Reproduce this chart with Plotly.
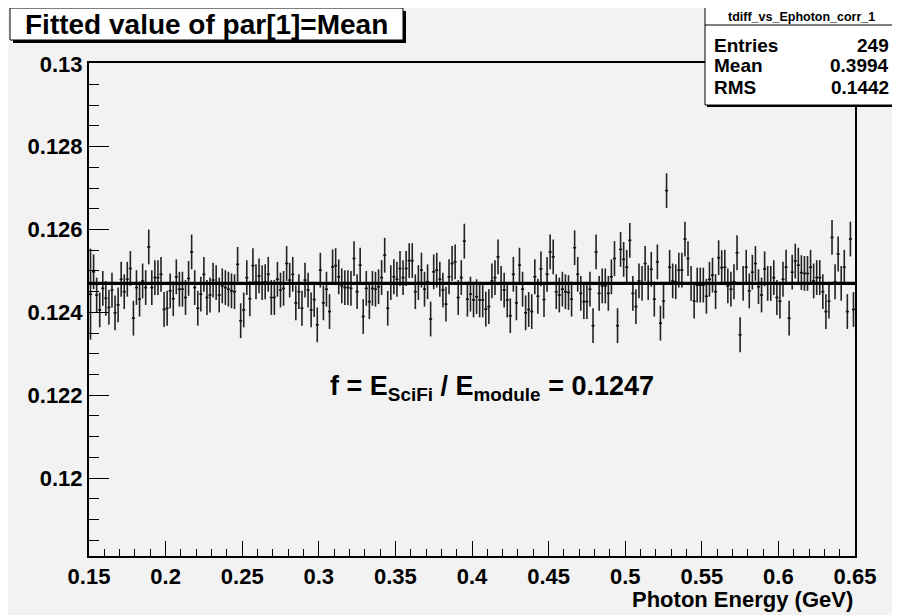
import numpy as np
import plotly.graph_objects as go

# ---------------- data ----------------
bin_lo = 0.15
bin_hi = 0.65
n_bins = 250
fit_value = 0.1247

mean_values = [
    # 0.150 - 0.194
    0.12444, 0.12498, 0.12442, 0.12406, 0.12458, 0.12434, 0.12412, 0.12454, 0.12399, 0.12418, 0.12480,
    0.12450, 0.12480, 0.12506, 0.12386, 0.12460, 0.12432, 0.12476, 0.12460, 0.12558, 0.12460, 0.12484,
    # 0.194 - 0.238
    0.12484, 0.12492, 0.12407, 0.12410, 0.12452, 0.12433, 0.12486, 0.12456, 0.12456, 0.12436, 0.12482,
    0.12546, 0.12460, 0.12410, 0.12444, 0.12492, 0.12436, 0.12442, 0.12478, 0.12472, 0.12442, 0.12464,
    # 0.238 - 0.286
    0.12460, 0.12456, 0.12452, 0.12450, 0.12516, 0.12380, 0.12406, 0.12484, 0.12433, 0.12513, 0.12474, 0.12488,
    0.12472, 0.12474, 0.12492, 0.12436, 0.12436, 0.12480, 0.12454, 0.12458, 0.12518, 0.12478, 0.12492, 0.12423,
    # 0.286 - 0.334
    0.12450, 0.12410, 0.12478, 0.12454, 0.12406, 0.12431, 0.12370, 0.12502, 0.12423, 0.12456, 0.12402, 0.12510,
    0.12513, 0.12486, 0.12464, 0.12460, 0.12460, 0.12458, 0.12530, 0.12450, 0.12514, 0.12390, 0.12458, 0.12426,
    # 0.334 - 0.378
    0.12458, 0.12456, 0.12462, 0.12484, 0.12538, 0.12410, 0.12472, 0.12486, 0.12480, 0.12506, 0.12484,
    0.12506, 0.12525, 0.12525, 0.12450, 0.12472, 0.12502, 0.12456, 0.12474, 0.12384, 0.12498, 0.12502,
    # 0.378 - 0.424
    0.12480, 0.12454, 0.12420, 0.12486, 0.12518, 0.12522, 0.12436, 0.12484, 0.12572, 0.12432, 0.12444, 0.12430,
    0.12438, 0.12430, 0.12430, 0.12408, 0.12414, 0.12476, 0.12484, 0.12534, 0.12470, 0.12454, 0.12430,
    # 0.424 - 0.472
    0.12392, 0.12492, 0.12423, 0.12514, 0.12456, 0.12399, 0.12407, 0.12402, 0.12486, 0.12439, 0.12505, 0.12431,
    0.12492, 0.12546, 0.12534, 0.12450, 0.12442, 0.12456, 0.12450, 0.12448, 0.12432, 0.12556, 0.12492, 0.12446,
    # 0.472 - 0.518
    0.12426, 0.12426, 0.12456, 0.12368, 0.12546, 0.12446, 0.12464, 0.12464, 0.12446, 0.12486, 0.12530, 0.12368,
    0.12552, 0.12528, 0.12509, 0.12574, 0.12446, 0.12414, 0.12476, 0.12470, 0.12518, 0.12472, 0.12504,
    # 0.518 - 0.562
    0.12432, 0.12522, 0.12374, 0.12427, 0.12694, 0.12509, 0.12476, 0.12474, 0.12502, 0.12502, 0.12577,
    0.12530, 0.12470, 0.12427, 0.12466, 0.12466, 0.12466, 0.12439, 0.12480, 0.12490, 0.12450, 0.12532,
    # 0.562 - 0.606
    0.12508, 0.12509, 0.12464, 0.12456, 0.12474, 0.12544, 0.12346, 0.12470, 0.12509, 0.12452, 0.12497,
    0.12518, 0.12462, 0.12442, 0.12505, 0.12470, 0.12470, 0.12484, 0.12436, 0.12427, 0.12480, 0.12509,
    # 0.606 - 0.650
    0.12386, 0.12497, 0.12524, 0.12514, 0.12496, 0.12494, 0.12494, 0.12509, 0.12476, 0.12484, 0.12484,
    0.12450, 0.12402, 0.12427, 0.12581, 0.12474, 0.12541, 0.12470, 0.12509, 0.12402, 0.12577, 0.12407,
]
typical_error = 0.00042
first_bin_error = 0.0011

x_tick_vals = [0.15, 0.2, 0.25, 0.3, 0.35, 0.4, 0.45, 0.5, 0.55, 0.6, 0.65]
x_tick_text = ["0.15", "0.2", "0.25", "0.3", "0.35", "0.4", "0.45", "0.5", "0.55", "0.6", "0.65"]
y_tick_vals = [0.12, 0.122, 0.124, 0.126, 0.128, 0.13]
y_tick_text = ["0.12", "0.122", "0.124", "0.126", "0.128", "0.13"]

title_text = "Fitted value of par[1]=Mean"
stats_name = "tdiff_vs_Ephoton_corr_1"
stats_rows = [("Entries", "249"), ("Mean", "0.3994"), ("RMS", "0.1442")]
x_title = "Photon Energy (GeV)"
fit_label = "f = E<sub>SciFi</sub> / E<sub>module</sub> = 0.1247"

# ---------------- geometry (screen pixels; page has an 8px body margin) ----------------
OFF = 8
SW, SH = 900, 615
W, H = SW - OFF, SH - OFF
L, R, T, B = 89, 855, 63, 556
bw = (bin_hi - bin_lo) / n_bins
x_centers = bin_lo + bw * (np.arange(n_bins) + 0.5)
errs = [typical_error] * n_bins
errs[0] = first_bin_error

def px(xp):
    return (xp - L) / (R - L)

def py(yp):
    return (B - yp) / (B - T)

FONT = "Liberation Sans, Arial, Helvetica, sans-serif"
BG = "#f2f2f2"

fig = go.Figure()
fig.add_trace(go.Scatter(
    x=x_centers, y=mean_values, mode="markers",
    marker=dict(size=1, color="#111"),
    error_y=dict(type="data", array=errs, visible=True, width=0, thickness=1.6, color="#222"),
    error_x=dict(type="constant", value=bw / 2, visible=True, width=0, thickness=1.6, color="#111"),
    showlegend=False, hoverinfo="skip",
))
fig.add_trace(go.Scatter(
    x=[bin_lo, bin_hi], y=[fit_value, fit_value], mode="lines",
    line=dict(color="black", width=3.4), showlegend=False, hoverinfo="skip",
))

tickfont = dict(family=FONT, size=22, color="black", weight="bold")
fig.update_xaxes(
    range=[bin_lo, bin_hi], tickvals=x_tick_vals, ticktext=x_tick_text,
    ticks="inside", ticklen=15, tickwidth=1.3, tickcolor="black",
    minor=dict(ticks="inside", ticklen=7, tickwidth=1.3, tickcolor="black", dtick=0.01, tick0=0.15, showgrid=False),
    showline=True, linecolor="black", linewidth=2, mirror=True,
    showgrid=False, zeroline=False, tickfont=tickfont,
)
fig.update_yaxes(
    range=[0.11812, 0.13002], tickvals=y_tick_vals, ticktext=y_tick_text,
    ticks="inside", ticklen=20, tickwidth=1.3, tickcolor="black",
    minor=dict(ticks="inside", ticklen=10, tickwidth=1.3, tickcolor="black", dtick=0.0005, tick0=0.12, showgrid=False),
    showline=True, linecolor="black", linewidth=2, mirror=True,
    showgrid=False, zeroline=False, tickfont=tickfont,
)

shapes = []
annotations = []
# title box with shadow
shapes.append(dict(type="rect", xref="paper", yref="paper", x0=px(13), x1=px(406), y0=py(11), y1=py(43),
                   fillcolor="black", line=dict(width=0), layer="above"))
shapes.append(dict(type="rect", xref="paper", yref="paper", x0=px(10), x1=px(403), y0=py(8), y1=py(40),
                   fillcolor="white", line=dict(color="black", width=1), layer="above"))
annotations.append(dict(xref="paper", yref="paper", x=px(206), y=py(24.5), text=title_text, showarrow=False,
                        font=dict(family=FONT, size=28, color="black", weight="bold"),
                        xanchor="center", yanchor="middle"))
# stats box
shapes.append(dict(type="rect", xref="paper", yref="paper", x0=px(707), x1=px(899), y0=py(5), y1=py(107),
                   fillcolor="black", line=dict(width=0), layer="above"))
shapes.append(dict(type="rect", xref="paper", yref="paper", x0=px(705), x1=px(897), y0=py(3), y1=py(105),
                   fillcolor="white", line=dict(color="black", width=1), layer="above"))
shapes.append(dict(type="line", xref="paper", yref="paper", x0=px(705), x1=px(897), y0=py(25), y1=py(25),
                   line=dict(color="black", width=1), layer="above"))
annotations.append(dict(xref="paper", yref="paper", x=px(801), y=py(16.5), text=stats_name, showarrow=False,
                        font=dict(family=FONT, size=12.5, color="black", weight="bold"),
                        xanchor="center", yanchor="middle"))
row_y = [45, 66, 87]
for (lab, val), yy in zip(stats_rows, row_y):
    annotations.append(dict(xref="paper", yref="paper", x=px(712), y=py(yy), text=lab, showarrow=False,
                            font=dict(family=FONT, size=19, color="black", weight="bold"),
                            xanchor="left", yanchor="middle"))
    annotations.append(dict(xref="paper", yref="paper", x=px(891), y=py(yy), text=val, showarrow=False,
                            font=dict(family=FONT, size=19, color="black", weight="bold"),
                            xanchor="right", yanchor="middle"))
# fit label
annotations.append(dict(xref="paper", yref="paper", x=px(328), y=py(388), text=fit_label, showarrow=False,
                        font=dict(family=FONT, size=27, color="black", weight="bold"),
                        xanchor="left", yanchor="middle"))
# x axis title
annotations.append(dict(xref="paper", yref="paper", x=px(855), y=py(599), text=x_title, showarrow=False,
                        font=dict(family=FONT, size=22, color="black", weight="bold"),
                        xanchor="right", yanchor="middle"))

fig.update_layout(
    width=W, height=H,
    margin=dict(l=L - OFF, r=SW - R, t=T - OFF, b=SH - B, pad=0),
    paper_bgcolor=BG, plot_bgcolor=BG,
    shapes=shapes, annotations=annotations,
    font=dict(family=FONT, color="black"),
)
fig.write_html("out.html")
